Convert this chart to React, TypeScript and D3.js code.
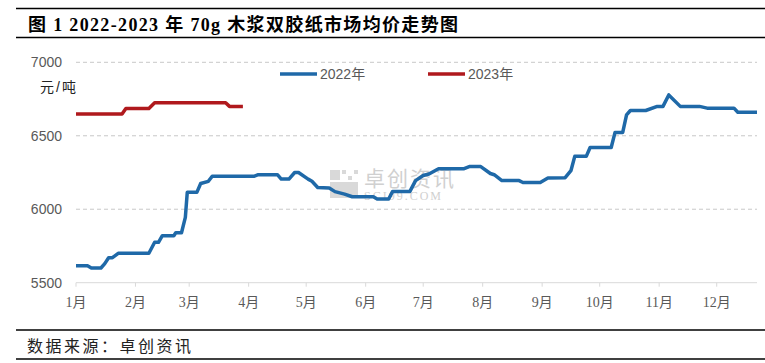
import * as d3 from 'd3'

// 2022 series (plotted on a Jan–Dec date axis), values in 元/吨
const dates2022 = [
  '01-01', '01-07', '01-09', '01-14', '01-16', '01-18', '01-20', '01-23', '02-08', '02-11',
  '02-13', '02-15', '02-21', '02-22', '02-25', '02-27', '02-28', '03-05', '03-07', '03-11',
  '03-13', '04-04', '04-06', '04-16', '04-18', '04-22', '04-25', '04-27', '05-02', '05-04',
  '05-07', '05-13', '05-16', '05-21', '05-25', '06-05', '06-07', '06-13', '06-15', '06-24',
  '06-27', '07-01', '07-04', '07-09', '07-22', '07-25', '07-31', '08-05', '08-07', '08-11',
  '08-20', '08-22', '08-31', '09-04', '09-13', '09-16', '09-18', '09-24', '09-26', '10-07',
  '10-09', '10-13', '10-15', '10-17', '10-25', '10-31', '11-03', '11-06', '11-12', '11-22',
  '11-26', '12-10', '12-12', '12-22'
]
const values2022 = [
  5615, 5615, 5600, 5600, 5630, 5670, 5670, 5700, 5700, 5775,
  5775, 5820, 5820, 5840, 5840, 5945, 6115, 6115, 6175, 6190,
  6225, 6225, 6235, 6235, 6205, 6205, 6250, 6250, 6205, 6190,
  6148, 6145, 6120, 6103, 6085, 6085, 6070, 6070, 6120, 6120,
  6195, 6230, 6240, 6275, 6275, 6290, 6290, 6243, 6235, 6195,
  6195, 6182, 6182, 6212, 6215, 6262, 6360, 6360, 6420, 6420,
  6523, 6523, 6642, 6672, 6672, 6700, 6700, 6778, 6700, 6700,
  6688, 6688, 6660, 6660
]

// 2023 series
const dates2023 = ['01-01', '01-25', '01-27', '02-08', '02-11', '03-20', '03-22', '03-29']
const values2023 = [6648, 6648, 6686, 6686, 6725, 6725, 6700, 6700]

const monthLabels = ['1月', '2月', '3月', '4月', '5月', '6月', '7月', '8月', '9月', '10月', '11月', '12月']
const yTicks = [5500, 6000, 6500, 7000]
const yGrid = [6000, 6500, 7000]

const W = 765
const H = 363
const BLUE = '#1f69a8'
const RED = '#b0191d'
const GREY = '#595959'

const parse = (md: string) => new Date(2022, +md.slice(0, 2) - 1, +md.slice(3, 5))

export default function App() {
  const x = d3.scaleTime().domain([new Date(2022, 0, 1), new Date(2022, 11, 22)]).range([76, 757])
  const y = d3.scaleLinear().domain([5500, 7000]).range([282.7, 62.3])

  const line = d3
    .line<[Date, number]>()
    .x(d => x(d[0]))
    .y(d => y(d[1]))

  const s2022 = dates2022.map((d, i) => [parse(d), values2022[i]] as [Date, number])
  const s2023 = dates2023.map((d, i) => [parse(d), values2023[i]] as [Date, number])
  const monthTicks = monthLabels.map((_, i) => new Date(2022, i, 1))

  const cjk = '"Liberation Sans", "Noto Sans CJK SC", sans-serif'
  const cjkSerif = '"Liberation Serif", "Noto Sans CJK SC", serif'

  return (
    <svg width={W} height={H} style={{ position: 'absolute', left: 0, top: 0, background: '#fff' }}>
      <rect width={W} height={H} fill="#fff" />

      {/* 标题 */}
      <line x1={16} x2={W} y1={8.5} y2={8.5} stroke="#000" strokeWidth={1.5} />
      <text
        x={28}
        y={31}
        fontFamily={cjkSerif}
        fontWeight="bold"
        fontSize={18}
        fill="#000"
        textLength={430}
        lengthAdjust="spacing"
      >
        图 1 2022-2023 年 70g 木浆双胶纸市场均价走势图
      </text>
      <line x1={16} x2={W} y1={37.5} y2={37.5} stroke="#000" strokeWidth={1.5} />

      {/* 水印 */}
      <g opacity={0.55}>
        <rect x={330} y={170} width={10} height={10} fill="#bbb" />
        <rect x={342} y={170} width={4} height={4} fill="#bbb" />
        <rect x={348} y={176} width={4} height={4} fill="#bbb" />
        <rect x={354} y={170} width={4} height={4} fill="#bbb" />
        <rect x={330} y={182} width={28} height={16} fill="#bbb" />
        <text x={364} y={186} fontFamily={cjk} fontSize={21} fill="#aaa" letterSpacing={2}>卓创资讯</text>
        <text x={364} y={200} fontFamily={cjkSerif} fontSize={12} fill="#aaa" letterSpacing={2}>SCI99.COM</text>
      </g>

      {/* 网格线 */}
      {yGrid.map(v => (
        <line key={v} x1={76} x2={757} y1={y(v)} y2={y(v)} stroke="#c8c8c8" strokeDasharray="4,3" strokeWidth={1} />
      ))}

      {/* x 轴 */}
      <line x1={76} x2={757} y1={y(5500)} y2={y(5500)} stroke="#d9d9d9" strokeWidth={1} />
      {monthTicks.map((d, i) => (
        <g key={i}>
          <line x1={x(d)} x2={x(d)} y1={y(5500)} y2={y(5500) + 4} stroke="#d9d9d9" />
          <text x={x(d)} y={307} textAnchor="middle" fontFamily={cjkSerif} fontSize={14} fill={GREY}>
            {monthLabels[i]}
          </text>
        </g>
      ))}

      {/* y 轴标签 */}
      {yTicks.map(v => (
        <text key={v} x={62} y={y(v) + 5} textAnchor="end" fontFamily={cjk} fontSize={14} fill={GREY}>
          {v}
        </text>
      ))}
      <text x={40} y={92} fontFamily={cjk} fontSize={14} fill="#222" letterSpacing={2}>元/吨</text>

      {/* 图例 */}
      <line x1={280} x2={317} y1={74} y2={74} stroke={BLUE} strokeWidth={3.5} />
      <text x={320} y={79} fontFamily={cjk} fontSize={14} fill={GREY}>2022年</text>
      <line x1={428} x2={465} y1={74} y2={74} stroke={RED} strokeWidth={3.5} />
      <text x={468} y={79} fontFamily={cjk} fontSize={14} fill={GREY}>2023年</text>

      {/* 折线 */}
      <path d={line(s2022) ?? ''} fill="none" stroke={BLUE} strokeWidth={3.5} strokeLinejoin="round" />
      <path d={line(s2023) ?? ''} fill="none" stroke={RED} strokeWidth={3.5} strokeLinejoin="round" />

      {/* 数据来源 */}
      <line x1={16} x2={W} y1={330} y2={330} stroke="#000" strokeWidth={1.5} />
      <text x={27} y={352} fontFamily={cjkSerif} fontSize={16} fill="#222" letterSpacing={2.5}>
        数据来源：卓创资讯
      </text>
      <line x1={16} x2={W} y1={359} y2={359} stroke="#000" strokeWidth={1.5} />
    </svg>
  )
}
